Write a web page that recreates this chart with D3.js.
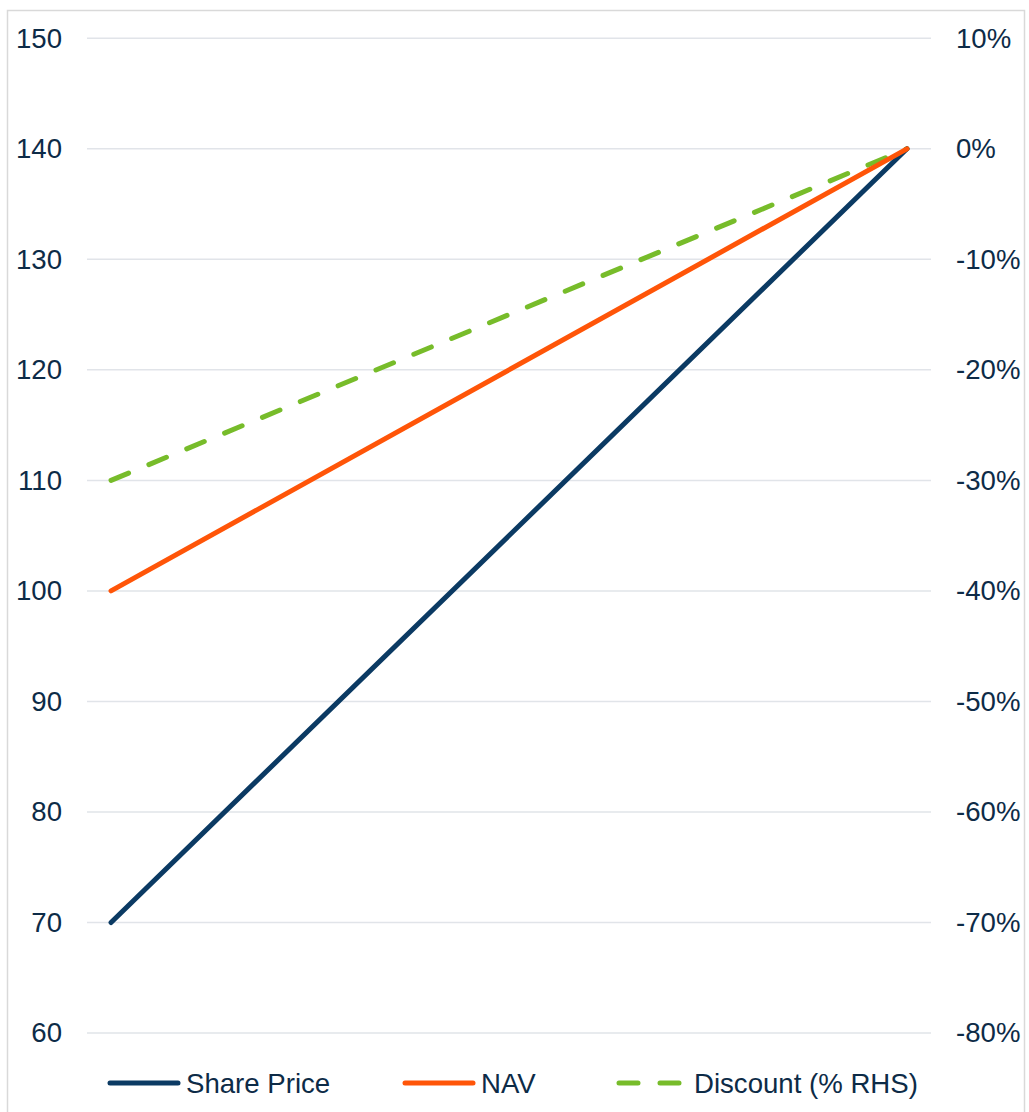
<!DOCTYPE html>
<html>
<head>
<meta charset="utf-8">
<script src="https://cdn.jsdelivr.net/npm/d3@7"></script>
<style>
  body { margin: 0; background: #fff; }
  svg text { font-family: "Liberation Sans", Arial, sans-serif; fill: #0d2b47; }
</style>
</head>
<body>
<div class="vis-chart"></div>
<script>
// data
const periods = ["Start", "End"];
const sharePrice = [70, 140];
const nav = [100, 140];
const discount = [-0.30, 0.0];
const leftTicks = [60, 70, 80, 90, 100, 110, 120, 130, 140, 150];
const rightTicks = [-0.8, -0.7, -0.6, -0.5, -0.4, -0.3, -0.2, -0.1, 0, 0.1];
const legendLabels = ["Share Price", "NAV", "Discount (% RHS)"];

const width = 1029, height = 1112;
const plot = { left: 87, right: 931, top: 38.3, bottom: 1033 };
const fontSize = "27.6px";

const svg = d3.select(".vis-chart")
  .append("svg")
  .attr("width", width)
  .attr("height", height);

// outer border
svg.append("rect")
  .attr("x", 7.5).attr("y", 10.5)
  .attr("width", 1017).attr("height", 1120)
  .attr("fill", "none")
  .attr("stroke", "#d9d9d9")
  .attr("stroke-width", 1.5);

const xScale = d3.scalePoint()
  .domain(periods)
  .range([plot.left, plot.right])
  .padding(0.0302);

const yLeft = d3.scaleLinear().domain([60, 150]).range([plot.bottom, plot.top]);
const yRight = d3.scaleLinear().domain([-0.8, 0.1]).range([plot.bottom, plot.top]);

// gridlines
svg.append("g")
  .selectAll("line")
  .data(leftTicks)
  .join("line")
  .attr("x1", plot.left).attr("x2", plot.right)
  .attr("y1", d => yLeft(d)).attr("y2", d => yLeft(d))
  .attr("stroke", "#e1e4e9")
  .attr("stroke-width", 1.5);

// left axis labels
const leftAxis = d3.axisLeft(yLeft).tickValues(leftTicks).tickSize(0).tickPadding(0);
svg.append("g")
  .attr("transform", "translate(62,0)")
  .call(leftAxis)
  .call(g => g.select(".domain").remove())
  .selectAll("text")
  .style("font-size", fontSize)
  .attr("fill", "#0d2b47");

// right axis labels (left aligned like excel), plain hyphen for minus
const pct = d => d3.format(".0%")(d).replace("\u2212", "-");
const rightAxis = d3.axisRight(yRight).tickValues(rightTicks).tickFormat(pct).tickSize(0).tickPadding(0);
svg.append("g")
  .attr("transform", "translate(956,0)")
  .call(rightAxis)
  .call(g => g.select(".domain").remove())
  .selectAll("text")
  .style("font-size", fontSize)
  .attr("fill", "#0d2b47");

const colors = ["#0b3a63", "#ff5508", "#77bc2a"];

const lineLeft = d3.line()
  .x((d, i) => xScale(periods[i]))
  .y(d => yLeft(d));
const lineRight = d3.line()
  .x((d, i) => xScale(periods[i]))
  .y(d => yRight(d));

svg.append("path")
  .attr("d", lineRight(discount))
  .attr("fill", "none")
  .attr("stroke", colors[2])
  .attr("stroke-width", 5)
  .attr("stroke-linecap", "round")
  .attr("stroke-dasharray", "19,22");

svg.append("path")
  .attr("d", lineLeft(sharePrice))
  .attr("fill", "none")
  .attr("stroke", colors[0])
  .attr("stroke-width", 5)
  .attr("stroke-linecap", "round");

svg.append("path")
  .attr("d", lineLeft(nav))
  .attr("fill", "none")
  .attr("stroke", colors[1])
  .attr("stroke-width", 5)
  .attr("stroke-linecap", "round");

// legend
const legendX = [110, 405, 619];
const legendY = 1083;
const legend = svg.append("g")
  .selectAll("g")
  .data(legendLabels)
  .join("g")
  .attr("transform", (d, i) => "translate(" + legendX[i] + "," + legendY + ")");

legend.append("line")
  .attr("x1", 0).attr("x2", (d, i) => i === 2 ? 63 : 68)
  .attr("y1", 0).attr("y2", 0)
  .attr("stroke", (d, i) => colors[i])
  .attr("stroke-width", 5)
  .attr("stroke-linecap", "round")
  .attr("stroke-dasharray", (d, i) => i === 2 ? "19,22" : null);

legend.append("text")
  .attr("x", (d, i) => i === 2 ? 75 : 76)
  .attr("y", 0)
  .attr("dy", "0.35em")
  .style("font-size", fontSize)
  .text(d => d);
</script>
</body>
</html>
